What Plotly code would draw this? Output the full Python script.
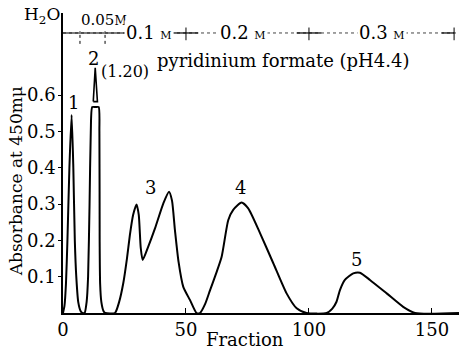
import plotly.graph_objects as go

# ---- data ----
fraction = [0, 0.6, 1.2, 1.8, 2.6, 3.5, 4.2, 4.8, 5.4, 6.2, 7.2, 8.0,
            8.8, 9.6, 10.2, 10.8, 11.3, 11.9, 13.2, 14.5, 14.8, 14.9, 15.1, 15.6, 16.5, 17.2,
            21.1, 22.8, 24.5, 26.0, 27.2, 28.5, 29.9, 30.8, 31.6, 32.4, 34.5, 37.4, 40.8, 43.1,
            44.3, 45.5, 47.0, 48.9, 51.6, 54.3,
            55.7, 57.8, 59.8, 62.3, 64.5, 67.2, 69.2, 72.6, 75.3, 80.1, 85.5, 90.9, 95.0, 99.0,
            107.2, 109.5, 111.2, 112.6, 114.6, 118.0, 120.7, 124.8, 131.6, 138.3, 143.1, 161]
absorbance = [0, 0.02, 0.08, 0.2, 0.4, 0.545, 0.4, 0.2, 0.1, 0.03, 0.005, 0,
              0, 0.03, 0.1, 0.3, 0.5, 0.567, 0.567, 0.567, 0.5, 0.2, 0.08, 0.03, 0.005, 0,
              0, 0.03, 0.082, 0.15, 0.215, 0.27, 0.299, 0.27, 0.18, 0.146, 0.18, 0.233, 0.302, 0.334,
              0.31, 0.229, 0.14, 0.072, 0.036, 0,
              0, 0.025, 0.063, 0.11, 0.155, 0.256, 0.284, 0.304, 0.288, 0.22, 0.137, 0.054, 0.013, 0,
              0, 0.012, 0.031, 0.063, 0.091, 0.109, 0.111, 0.091, 0.054, 0.017, 0, 0]

# broken-off tip of peak 2 (true maximum 1.20)
tip_fraction = [12.3, 13.1, 14.0, 12.3]
tip_absorbance = [0.582, 0.675, 0.582, 0.582]

peak_labels = ["1", "2", "3", "4", "5"]
peak_label_x = [4.2, 12.3, 35.4, 72.0, 119.3]
peak_label_y = [0.579, 0.70, 0.345, 0.345, 0.146]

buffer_labels = ["0.05<span style='font-size:12px'>M</span>",
                 "0.1 <span style='font-size:11px'>M</span>",
                 "0.2 <span style='font-size:11px'>M</span>",
                 "0.3 <span style='font-size:11px'>M</span>"]
buffer_label_x = [16.8, 34.8, 73.2, 129.7]
buffer_bounds = [50, 100, 159]
buffer_dashed = [6.9, 17.1]
bracket_y = 0.771

x_ticks = [0, 50, 100, 150]
y_ticks = [0.1, 0.2, 0.3, 0.4, 0.5, 0.6]

FONT = "DejaVu Serif"

fig = go.Figure()
fig.add_trace(go.Scatter(x=fraction, y=absorbance, mode="lines",
                         line=dict(color="black", width=2, shape="spline", smoothing=0.6),
                         hoverinfo="skip", showlegend=False))
fig.add_trace(go.Scatter(x=tip_fraction, y=tip_absorbance, mode="lines",
                         line=dict(color="black", width=1.6),
                         hoverinfo="skip", showlegend=False))

# bracket line for buffer steps
fig.add_shape(type="line", x0=0, x1=160, y0=bracket_y, y1=bracket_y, xref="x", yref="y",
              line=dict(color="#444", width=1, dash="dot"))
fig.add_shape(type="line", x0=0, x1=26, y0=bracket_y, y1=bracket_y, xref="x", yref="y",
              line=dict(color="black", width=1.2))
for b in buffer_bounds:
    fig.add_shape(type="line", x0=b - 5, x1=b + 5 if b < 150 else b, y0=bracket_y, y1=bracket_y,
                  xref="x", yref="y", line=dict(color="black", width=1.2))
    fig.add_shape(type="line", x0=b, x1=b, y0=bracket_y - 0.02, y1=bracket_y + 0.015,
                  xref="x", yref="y", line=dict(color="black", width=1))
for b in buffer_dashed:
    fig.add_shape(type="line", x0=b, x1=b, y0=bracket_y - 0.03, y1=bracket_y + 0.005,
                  xref="x", yref="y", line=dict(color="black", width=1, dash="dot"))

for i, (t, x) in enumerate(zip(buffer_labels, buffer_label_x)):
    if i == 0:
        fig.add_annotation(x=x, y=0.806, text=t, showarrow=False, xref="x", yref="y",
                           xanchor="center", yanchor="middle",
                           font=dict(family=FONT, size=15, color="black"))
    else:
        fig.add_annotation(x=x, y=bracket_y, text=t, showarrow=False, xref="x", yref="y",
                           xanchor="center", yanchor="middle", bgcolor="white", borderpad=1,
                           font=dict(family=FONT, size=18, color="black"))

fig.add_annotation(x=-0.053, y=0.993, xref="paper", yref="paper", text="H<sub>2</sub>O",
                   xanchor="center", yanchor="middle",
                   showarrow=False, font=dict(family=FONT, size=17, color="black"))
fig.add_annotation(x=14.8, y=0.664, xref="x", yref="y", text="(1.20)", xanchor="left",
                   yanchor="middle",
                   showarrow=False, font=dict(family=FONT, size=16, color="black"))
fig.add_annotation(x=89.5, y=0.695, xref="x", yref="y", text="pyridinium formate (pH4.4)",
                   xanchor="center", yanchor="middle",
                   showarrow=False, font=dict(family=FONT, size=18, color="black"))

for t, x, y in zip(peak_labels, peak_label_x, peak_label_y):
    fig.add_annotation(x=x, y=y, text=t, showarrow=False, xref="x", yref="y",
                       xanchor="center", yanchor="middle",
                       font=dict(family=FONT, size=18, color="black"))

fig.add_annotation(x=74, y=-0.088, xref="x", yref="paper", text="Fraction", showarrow=False,
                   xanchor="center", yanchor="middle",
                   font=dict(family=FONT, size=18, color="black"))
fig.add_annotation(x=-0.118, y=0.44, xref="paper", yref="paper", text="Absorbance at 450mμ",
                   textangle=-90, showarrow=False, xanchor="center", yanchor="middle",
                   font=dict(family=FONT, size=17, color="black"))

fig.update_xaxes(range=[0, 161], tickvals=x_ticks, ticktext=[str(v) for v in x_ticks],
                 showline=True, linecolor="black", linewidth=1.5, ticks="inside", ticklen=5,
                 tickcolor="black", showgrid=False, zeroline=False, automargin=False,
                 tickfont=dict(family=FONT, size=18, color="black"))
fig.update_yaxes(range=[0, 0.826], tickvals=y_ticks, ticktext=[f"{v:.1f}" for v in y_ticks],
                 showline=True, linecolor="black", linewidth=1.5, ticks="outside", ticklen=3,
                 tickcolor="black", showgrid=False, zeroline=False, automargin=False,
                 ticklabelstandoff=-1,
                 tickfont=dict(family=FONT, size=18, color="black"))

fig.update_layout(width=459, height=351, margin=dict(l=63, r=0, t=13, b=38),
                  plot_bgcolor="white", paper_bgcolor="white", showlegend=False)

fig.write_html("out.html", config={"displayModeBar": False},
               post_script="document.body.style.margin='0';")
